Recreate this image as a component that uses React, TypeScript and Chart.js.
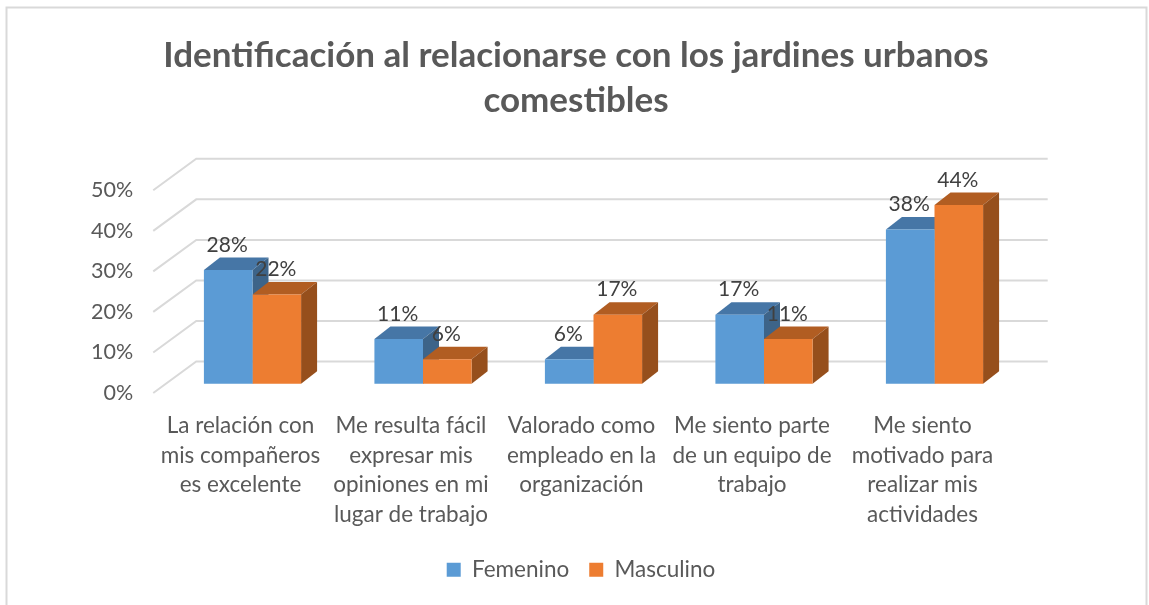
import React, { useEffect, useRef } from "react";
import { Chart, registerables } from "chart.js";

Chart.register(...registerables);

const categories = [
  ["La relación con", "mis compañeros", "es excelente"],
  ["Me resulta fácil", "expresar mis", "opiniones en mi", "lugar de trabajo"],
  ["Valorado como", "empleado en la", "organización"],
  ["Me siento parte", "de un equipo de", "trabajo"],
  ["Me siento", "motivado para", "realizar mis", "actividades"],
];
const femenino = [28, 11, 6, 17, 38];
const masculino = [22, 6, 17, 11, 44];
const axisTicks = [0, 10, 20, 30, 40, 50];

const FONT = "Lato, Carlito, sans-serif";
const DEPTH_X = 16;
const DEPTH_Y = 12.5;
const WALL_DX = 43;
const WALL_DY = 31.5;
const faces = [
  { top: "#4676a6", side: "#3d6489" },
  { top: "#b15d22", side: "#964f1c" },
];

const bar3d = {
  id: "bar3d",
  afterLayout(chart: any) {
    chart.legend.left += 5;
    chart.legend.right += 5;
  },
  beforeDraw(chart: any) {
    const { ctx, width, height } = chart;
    ctx.save();
    ctx.strokeStyle = "#d9d9d9";
    ctx.lineWidth = 2;
    ctx.strokeRect(6.5, 7.5, width - 9, height + 20);
    ctx.restore();
  },
  beforeDatasetsDraw(chart: any) {
    const { ctx, chartArea } = chart;
    const scale = chart.scales.y;
    ctx.save();
    ctx.strokeStyle = "#d9d9d9";
    ctx.lineWidth = 2;
    const frontX = chartArea.left - 14;
    const backX = frontX + WALL_DX;
    axisTicks.forEach((t) => {
      const y = scale.getPixelForValue(t);
      ctx.beginPath();
      ctx.moveTo(frontX, y);
      ctx.lineTo(backX, y - WALL_DY);
      ctx.lineTo(1047.7, y - WALL_DY);
      ctx.stroke();
    });
    [0, 1].forEach((d) => {
      chart.getDatasetMeta(d).data.forEach((b: any) => {
        const { x, y, base, width: w } = b.getProps(["x", "y", "base", "width"], true);
        const l = x - w / 2;
        const r = x + w / 2;
        ctx.fillStyle = faces[d].top;
        ctx.beginPath();
        ctx.moveTo(l, y);
        ctx.lineTo(l + DEPTH_X, y - DEPTH_Y);
        ctx.lineTo(r + DEPTH_X, y - DEPTH_Y);
        ctx.lineTo(r, y);
        ctx.closePath();
        ctx.fill();
        ctx.fillStyle = faces[d].side;
        ctx.beginPath();
        ctx.moveTo(r, y);
        ctx.lineTo(r + DEPTH_X, y - DEPTH_Y);
        ctx.lineTo(r + DEPTH_X, base - DEPTH_Y);
        ctx.lineTo(r, base);
        ctx.closePath();
        ctx.fill();
      });
    });
    ctx.restore();
  },
  afterDatasetsDraw(chart: any) {
    const { ctx } = chart;
    ctx.save();
    ctx.font = `21px ${FONT}`;
    ctx.fillStyle = "#404040";
    ctx.textAlign = "center";
    ctx.textBaseline = "middle";
    [0, 1].forEach((d) => {
      const values = chart.data.datasets[d].data;
      chart.getDatasetMeta(d).data.forEach((b: any, i: number) => {
        const { x, y } = b.getProps(["x", "y"], true);
        ctx.fillText(`${values[i]}%`, x - 1, y - 25);
      });
    });
    ctx.restore();
  },
};

export default function App() {
  const ref = useRef<HTMLCanvasElement>(null);
  useEffect(() => {
    document.body.style.margin = "0";
    const chart = new Chart(ref.current as HTMLCanvasElement, {
      type: "bar",
      data: {
        labels: categories as any,
        datasets: [
          { label: "Femenino", data: femenino, backgroundColor: "#5B9BD5", yAxisID: "bars" },
          { label: "Masculino", data: masculino, backgroundColor: "#ED7D31", yAxisID: "bars" },
        ],
      },
      options: {
        animation: false,
        responsive: false,
        layout: { padding: { left: 3, right: 0, top: 0, bottom: 14 } },
        datasets: { bar: { categoryPercentage: 0.57, barPercentage: 1 } },
        plugins: {
          title: {
            display: true,
            text: ["Identificación al relacionarse con los jardines urbanos", "comestibles"],
            color: "#595959",
            font: { family: FONT, size: 35, weight: "bold", lineHeight: 1.29 },
            padding: { top: 33, bottom: 67 },
          },
          legend: {
            position: "bottom",
            labels: {
              color: "#595959",
              font: { family: FONT, size: 22.5 },
              boxWidth: 14,
              boxHeight: 14,
              padding: 20,
            },
          },
          tooltip: { enabled: false },
        },
        scales: {
          x: {
            grid: { display: false, drawTicks: false },
            border: { display: false },
            ticks: {
              color: "#595959",
              font: { family: FONT, size: 22.5, lineHeight: 1.31 },
              padding: 18.5,
              labelOffset: -12,
              maxRotation: 0,
              autoSkip: false,
            },
            afterFit(s: any) { s.height = 145.5; },
          },
          y: {
            position: "left",
            min: 0,
            max: 50,
            grid: { display: false, drawTicks: false },
            border: { display: false },
            ticks: {
              stepSize: 10,
              color: "#595959",
              font: { family: FONT, size: 21.5 },
              padding: 34,
              callback: (v: any) => `${v}%`,
            },
            afterFit(s: any) { s.width = 164.25; },
          },
          bars: {
            position: "right",
            min: -2.29,
            max: 47.64,
            grid: { display: false, drawTicks: false },
            border: { display: false },
            ticks: { display: false },
            afterFit(s: any) { s.width = 129.25; },
          },
        },
      },
      plugins: [bar3d],
    } as any);
    return () => chart.destroy();
  }, []);
  return <canvas ref={ref} width={1149} height={605} style={{ display: "block" }} />;
}
